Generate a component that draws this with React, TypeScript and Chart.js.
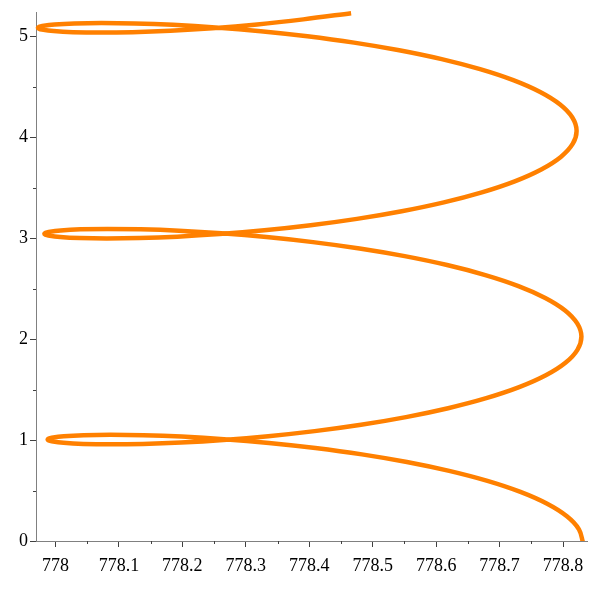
import React, { useEffect, useRef } from 'react';
import { Chart, registerables } from 'chart.js';

Chart.register(...registerables);

// Curve samples (x in axis units, y in axis units)
const curveX = [
  778.8314, 778.8250, 778.8060, 778.7749, 778.7328, 778.6808, 778.6205, 778.5539, 778.4830, 778.4097,
  778.3365, 778.2655, 778.1988, 778.1386, 778.0865, 778.0444, 778.0132, 777.9941, 777.9893, 777.9877, 777.9892, 777.9940,
  778.0129, 778.0439, 778.0860, 778.1379, 778.1980, 778.2645, 778.3354, 778.4085, 778.4816, 778.5524, 778.6188, 778.6789, 778.7308, 778.7728, 778.8037, 778.8226,
  778.8289, 778.8223, 778.8032, 778.7719, 778.7297, 778.6775, 778.6172, 778.5504, 778.4793, 778.4059, 778.3326, 778.2614, 778.1946, 778.1342, 778.0820, 778.0397, 778.0084, 777.9892, 777.9843, 777.9826, 777.9841, 777.9888,
  778.0076, 778.0385, 778.0803, 778.1321, 778.1921, 778.2584, 778.3292, 778.4021, 778.4751, 778.5457, 778.6121, 778.6720, 778.7238, 778.7656, 778.7964, 778.8151,
  778.8213, 778.8146, 778.7953, 778.7639, 778.7215, 778.6692, 778.6087, 778.5418, 778.4706, 778.3971, 778.3236, 778.2522, 778.1853, 778.1248, 778.0724, 778.0300, 777.9986, 777.9792, 777.9742, 777.9725, 777.9739, 777.9785,
  777.9972, 778.0279, 778.0696, 778.1213, 778.1811, 778.2473, 778.3179, 778.3907, 778.4660,
];

const curveY = [
  -0.0150, 0.1157, 0.2442, 0.3683, 0.4858, 0.5951, 0.6944, 0.7825, 0.8584, 0.9215,
  0.9717, 1.0092, 1.0344, 1.0484, 1.0525, 1.0483, 1.0376, 1.0225, 1.0139, 1.0051, 0.9962, 0.9877,
  0.9726, 0.9618, 0.9576, 0.9617, 0.9757, 1.0010, 1.0384, 1.0886, 1.1518, 1.2277, 1.3158, 1.4151, 1.5243, 1.6419, 1.7659, 1.8944,
  2.0252, 2.1559, 2.2844, 2.4084, 2.5260, 2.6352, 2.7345, 2.8226, 2.8985, 2.9617, 3.0119, 3.0493, 3.0746, 3.0886, 3.0927, 3.0885, 3.0777, 3.0626, 3.0540, 3.0452, 3.0364, 3.0278,
  3.0127, 3.0020, 2.9977, 3.0018, 3.0159, 3.0411, 3.0786, 3.1287, 3.1919, 3.2678, 3.3559, 3.4552, 3.5644, 3.6820, 3.8061, 3.9345,
  4.0653, 4.1960, 4.3245, 4.4485, 4.5661, 4.6753, 4.7747, 4.8627, 4.9387, 5.0018, 5.0520, 5.0894, 5.1147, 5.1287, 5.1328, 5.1286, 5.1179, 5.1027, 5.0942, 5.0853, 5.0765, 5.0679,
  5.0528, 5.0421, 5.0379, 5.0420, 5.0560, 5.0812, 5.1187, 5.1689, 5.2300,
];

const xMajorTicks = [778, 778.1, 778.2, 778.3, 778.4, 778.5, 778.6, 778.7, 778.8];
const xTickLabels = ['778', '778.1', '778.2', '778.3', '778.4', '778.5', '778.6', '778.7', '778.8'];
const xMinorTicks = [778.05, 778.15, 778.25, 778.35, 778.45, 778.55, 778.65, 778.75];
const yMajorTicks = [0, 1, 2, 3, 4, 5];
const yTickLabels = ['0', '1', '2', '3', '4', '5'];
const yMinorTicks = [0.5, 1.5, 2.5, 3.5, 4.5];

const X_MIN = 777.9694;
const X_MAX = 778.8377;
const Y_MIN = 0;
const Y_MAX = 5.234;

const CURVE_COLOR = '#ff8000';
const AXIS_COLOR = '#808080';
const TICK_COLOR = '#404040';
const FONT = { family: '"Liberation Serif", "Times New Roman", serif', size: 18 };

const minorTickPlugin = {
  id: 'minorTicks',
  afterDraw(chart: any) {
    const ctx = chart.ctx;
    const xs = chart.scales.x;
    const ys = chart.scales.y;
    const { bottom, left } = chart.chartArea;
    ctx.save();
    ctx.strokeStyle = TICK_COLOR;
    ctx.lineWidth = 1;
    ctx.beginPath();
    xMinorTicks.forEach((v) => {
      const p = Math.round(xs.getPixelForValue(v)) + 0.5;
      ctx.moveTo(p, bottom);
      ctx.lineTo(p, bottom + 3);
    });
    yMinorTicks.forEach((v) => {
      const p = Math.round(ys.getPixelForValue(v)) + 0.5;
      ctx.moveTo(left, p);
      ctx.lineTo(left - 3, p);
    });
    ctx.stroke();
    ctx.restore();
  },
};

export default function App() {
  const canvasRef = useRef<HTMLCanvasElement | null>(null);

  useEffect(() => {
    if (!canvasRef.current) return;
    const points = curveX.map((x, i) => ({ x, y: curveY[i] }));
    const chart = new Chart(canvasRef.current, {
      type: 'scatter',
      data: {
        datasets: [
          {
            data: points,
            showLine: true,
            borderColor: CURVE_COLOR,
            backgroundColor: CURVE_COLOR,
            borderWidth: 4.5,
            pointRadius: 0,
            tension: 0.35,
            fill: false,
            clip: { left: 6, top: 6, right: 6, bottom: 0 },
          } as any,
        ],
      },
      options: {
        animation: false,
        responsive: false,
        maintainAspectRatio: false,
        layout: { padding: { top: 10, right: 9, bottom: 0, left: 0 } },
        plugins: { legend: { display: false }, tooltip: { enabled: false } },
        scales: {
          x: {
            type: 'linear',
            min: X_MIN,
            max: X_MAX,
            afterFit: (s: any) => {
              s.height = 55;
            },
            afterBuildTicks: (s: any) => {
              s.ticks = xMajorTicks.map((v) => ({ value: v }));
            },
            ticks: {
              callback: (_v: any, i: number) => xTickLabels[i],
              font: FONT,
              color: '#000',
              padding: 8,
              maxRotation: 0,
              autoSkip: false,
            },
            grid: {
              display: true,
              drawOnChartArea: false,
              drawTicks: true,
              tickLength: 6,
              tickColor: TICK_COLOR,
              color: TICK_COLOR,
            },
            border: { display: true, color: AXIS_COLOR, width: 1 },
          },
          y: {
            type: 'linear',
            min: Y_MIN,
            max: Y_MAX,
            afterFit: (s: any) => {
              s.width = 36;
            },
            afterBuildTicks: (s: any) => {
              s.ticks = yMajorTicks.map((v) => ({ value: v }));
            },
            ticks: {
              callback: (_v: any, i: number) => yTickLabels[i],
              font: FONT,
              color: '#000',
              padding: 2,
              autoSkip: false,
            },
            grid: {
              display: true,
              drawOnChartArea: false,
              drawTicks: true,
              tickLength: 6,
              tickColor: TICK_COLOR,
              color: TICK_COLOR,
            },
            border: { display: true, color: AXIS_COLOR, width: 1 },
          },
        },
      },
      plugins: [minorTickPlugin],
    });
    return () => chart.destroy();
  }, []);

  return (
    <div style={{ position: 'fixed', left: 0, top: 0, width: 596, height: 596, background: '#fff' }}>
      <canvas ref={canvasRef} width={596} height={596} style={{ display: 'block' }} />
    </div>
  );
}
